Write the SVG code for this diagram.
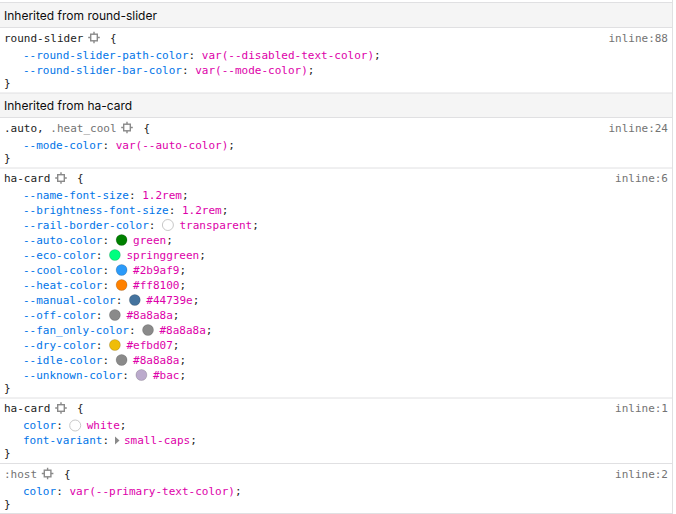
<svg xmlns="http://www.w3.org/2000/svg" width="676" height="514" viewBox="0 0 676 514">
<style>
text{font-family:"DejaVu Sans Mono","Liberation Mono",monospace;font-size:11px;fill:#222}
.h{font-family:Inter,"Liberation Sans",sans-serif;font-size:12px;fill:#0c0c0d}
.n{fill:#0074e8}
.v{fill:#dd00a9}
.g{fill:#737373}
.src{fill:#737373;text-anchor:end}
.sep{stroke:#e0e0e2;stroke-width:1}
.band{fill:#f5f5f5}
.sw{stroke:rgba(0,0,0,0.15);stroke-width:1}
.swl{stroke:#c8c8c8;stroke-width:1;fill:#fff}
</style>
<defs>
<g id="ico" fill="none" stroke="#8a8a8a" stroke-width="1.4">
<rect x="-3.3" y="-3.3" width="6.6" height="6.6"/>
<path d="M0 -5.8V-3.3M0 3.3V5.8M-5.8 0H-3.3M3.3 0H5.8"/>
</g>
</defs>
<rect width="676" height="514" fill="#fff"/>
<g id="bands">
<rect class="band" x="0" y="2.5" width="672" height="25"/>
<rect class="band" x="0" y="93" width="672" height="24.5"/>
</g>
<g id="lines">
<path class="sep" d="M0 2.5H672.5M0 27.5H672.5M0 93H672.5M0 117.5H672.5M0 168H672.5M0 398H672.5M0 463.5H672.5M0 513.5H672.5M672.5 0V514"/>
</g>
<g id="header-round-slider">
<text class="h" x="4" y="19.5">Inherited from round-slider</text>
</g>
<g id="rule-round-slider" xml:space="preserve">
<text x="4" y="41.5">round-slider</text>
<use href="#ico" x="94" y="37.5"/>
<text x="110" y="41.5">{</text>
<text class="src" x="668" y="41.5">inline:88</text>
<text x="23" y="58.5"><tspan class="n">--round-slider-path-color</tspan>: <tspan class="v">var(--disabled-text-color)</tspan>;</text>
<text x="23" y="73.5"><tspan class="n">--round-slider-bar-color</tspan>: <tspan class="v">var(--mode-color)</tspan>;</text>
<text x="4" y="86.5">}</text>
</g>
<g id="header-ha-card">
<text class="h" x="4" y="109.5">Inherited from ha-card</text>
</g>
<g id="rule-auto" xml:space="preserve">
<text x="4" y="131.5">.auto,<tspan class="g"> .heat_cool</tspan></text>
<use href="#ico" x="127" y="127.5"/>
<text x="143.5" y="131.5">{</text>
<text class="src" x="668" y="131.5">inline:24</text>
<text x="23" y="148.5"><tspan class="n">--mode-color</tspan>: <tspan class="v">var(--auto-color)</tspan>;</text>
<text x="4" y="161.5">}</text>
</g>
<g id="rule-ha-card-vars" xml:space="preserve">
<text x="4" y="182">ha-card</text>
<use href="#ico" x="61" y="178"/>
<text x="77" y="182">{</text>
<text class="src" x="668" y="182">inline:6</text>
<text x="23" y="198.5"><tspan class="n">--name-font-size</tspan>: <tspan class="v">1.2rem</tspan>;</text>
<text x="23" y="213.5"><tspan class="n">--brightness-font-size</tspan>: <tspan class="v">1.2rem</tspan>;</text>
<text x="23" y="228.5"><tspan class="n">--rail-border-color</tspan>:</text>
<circle class="swl" cx="167.9" cy="225" r="5.5"/>
<text x="179.4" y="228.5"><tspan class="v">transparent</tspan>;</text>
<text x="23" y="243.5"><tspan class="n">--auto-color</tspan>:</text>
<circle class="sw" cx="121.6" cy="240" r="5.5" fill="green"/>
<text x="133.1" y="243.5"><tspan class="v">green</tspan>;</text>
<text x="23" y="258.5"><tspan class="n">--eco-color</tspan>:</text>
<circle class="sw" cx="114.9" cy="255" r="5.5" fill="springgreen"/>
<text x="126.4" y="258.5"><tspan class="v">springgreen</tspan>;</text>
<text x="23" y="273.5"><tspan class="n">--cool-color</tspan>:</text>
<circle class="sw" cx="121.6" cy="270" r="5.5" fill="#2b9af9"/>
<text x="133.1" y="273.5"><tspan class="v">#2b9af9</tspan>;</text>
<text x="23" y="288.5"><tspan class="n">--heat-color</tspan>:</text>
<circle class="sw" cx="121.6" cy="285" r="5.5" fill="#ff8100"/>
<text x="133.1" y="288.5"><tspan class="v">#ff8100</tspan>;</text>
<text x="23" y="303.5"><tspan class="n">--manual-color</tspan>:</text>
<circle class="sw" cx="134.8" cy="300" r="5.5" fill="#44739e"/>
<text x="146.3" y="303.5"><tspan class="v">#44739e</tspan>;</text>
<text x="23" y="318.5"><tspan class="n">--off-color</tspan>:</text>
<circle class="sw" cx="114.9" cy="315" r="5.5" fill="#8a8a8a"/>
<text x="126.4" y="318.5"><tspan class="v">#8a8a8a</tspan>;</text>
<text x="23" y="333.5"><tspan class="n">--fan_only-color</tspan>:</text>
<circle class="sw" cx="148" cy="330" r="5.5" fill="#8a8a8a"/>
<text x="159.5" y="333.5"><tspan class="v">#8a8a8a</tspan>;</text>
<text x="23" y="348.5"><tspan class="n">--dry-color</tspan>:</text>
<circle class="sw" cx="114.9" cy="345" r="5.5" fill="#efbd07"/>
<text x="126.4" y="348.5"><tspan class="v">#efbd07</tspan>;</text>
<text x="23" y="363.5"><tspan class="n">--idle-color</tspan>:</text>
<circle class="sw" cx="121.6" cy="360" r="5.5" fill="#8a8a8a"/>
<text x="133.1" y="363.5"><tspan class="v">#8a8a8a</tspan>;</text>
<text x="23" y="378.5"><tspan class="n">--unknown-color</tspan>:</text>
<circle class="sw" cx="141.4" cy="375" r="5.5" fill="#bbaacc"/>
<text x="152.9" y="378.5"><tspan class="v">#bac</tspan>;</text>
<text x="4" y="391.5">}</text>
</g>
<g id="rule-ha-card" xml:space="preserve">
<text x="4" y="412">ha-card</text>
<use href="#ico" x="61" y="408"/>
<text x="77" y="412">{</text>
<text class="src" x="668" y="412">inline:1</text>
<text x="23" y="429"><tspan class="n">color</tspan>:</text>
<circle class="swl" cx="75.2" cy="425.5" r="5.5"/>
<text x="86.7" y="429"><tspan class="v">white</tspan>;</text>
<text x="23" y="444"><tspan class="n">font-variant</tspan>:</text>
<path d="M115 436.5L119.5 440.5L115 444.5Z" fill="#8a8a8a"/>
<text x="124" y="444"><tspan class="v">small-caps</tspan>;</text>
<text x="4" y="457">}</text>
</g>
<g id="rule-host" xml:space="preserve">
<text class="g" x="4" y="477.5">:host</text>
<use href="#ico" x="47.6" y="473.5"/>
<text x="64" y="477.5">{</text>
<text class="src" x="668" y="477.5">inline:2</text>
<text x="23" y="494.5"><tspan class="n">color</tspan>: <tspan class="v">var(--primary-text-color)</tspan>;</text>
<text x="4" y="507.5">}</text>
</g>
</svg>
